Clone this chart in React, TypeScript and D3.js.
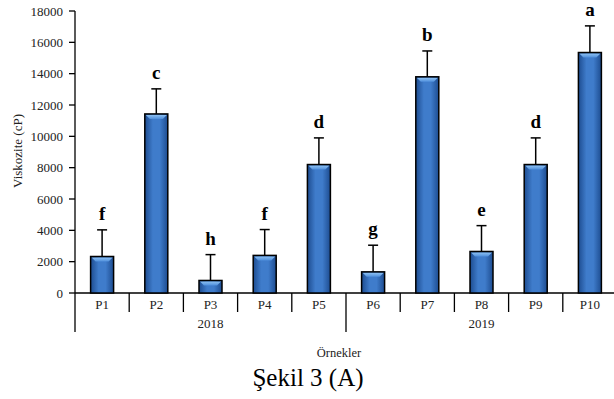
import React from "react";
import * as d3 from "d3";

const categories = ["P1", "P2", "P3", "P4", "P5", "P6", "P7", "P8", "P9", "P10"];
const values = [2330, 11430, 800, 2400, 8200, 1350, 13800, 2650, 8200, 15350];
const errors = [1700, 1600, 1650, 1650, 1700, 1700, 1650, 1650, 1700, 1700];
const letters = ["f", "c", "h", "f", "d", "g", "b", "e", "d", "a"];
const years = ["2018", "2019"];
const yearGroups = [["P1", "P2", "P3", "P4", "P5"], ["P6", "P7", "P8", "P9", "P10"]];
const yTicks = [0, 2000, 4000, 6000, 8000, 10000, 12000, 14000, 16000, 18000];

const W = 614, H = 399;
const left = 75, right = 617, top = 11, bottom = 293;
const font = "'Liberation Serif', 'Times New Roman', serif";

export default function App() {
  const x = d3.scaleBand<string>().domain(categories).range([left, right]).paddingInner(0).paddingOuter(0);
  const y = d3.scaleLinear().domain([0, 18000]).range([bottom, top]);
  const bw = x.bandwidth();
  const barW = 23;
  return (
    <svg width={W} height={H} style={{ position: "absolute", left: 0, top: 0, background: "#fff" }}>
      <defs>
        <linearGradient id="bg" x1="0" x2="1" y1="0" y2="0">
          <stop offset="0" stopColor="#1d4c90" />
          <stop offset="0.35" stopColor="#3f7ccb" />
          <stop offset="0.65" stopColor="#3f7ccb" />
          <stop offset="1" stopColor="#1d4c90" />
        </linearGradient>
        <linearGradient id="tg" x1="0" x2="0" y1="0" y2="1">
          <stop offset="0" stopColor="#8cc0f2" />
          <stop offset="1" stopColor="#4f8fdc" />
        </linearGradient>
      </defs>
      {/* y axis */}
      <line x1={left} x2={left} y1={y(18000)} y2={bottom} stroke="#000" strokeWidth={1.3} />
      {yTicks.map((t) => (
        <g key={t}>
          <line x1={left - 6} x2={left} y1={y(t)} y2={y(t)} stroke="#000" strokeWidth={1.3} />
          <text x={left - 12} y={y(t) + 4.5} textAnchor="end" fontFamily={font} fontSize={13} fill="#222">{t}</text>
        </g>
      ))}
      <text transform={`translate(22,151) rotate(-90)`} textAnchor="middle" fontFamily={font} fontSize={13} fill="#222">Viskozite (cP)</text>
      {/* x axis */}
      <line x1={left} x2={W} y1={bottom} y2={bottom} stroke="#000" strokeWidth={1.3} />
      {categories.map((c, i) => {
        const x0 = x(c)!;
        const isGroupStart = yearGroups.some((g) => g[0] === c);
        return (
          <g key={c}>
            <line x1={x0} x2={x0} y1={bottom} y2={isGroupStart ? 332 : 312} stroke="#000" strokeWidth={1.3} />
            <text x={x0 + bw / 2} y={308.5} textAnchor="middle" fontFamily={font} fontSize={13} fill="#222">{c}</text>
          </g>
        );
      })}
      {years.map((yr, gi) => {
        const g = yearGroups[gi];
        const a = x(g[0])!, b = x(g[g.length - 1])! + bw;
        return <text key={yr} x={(a + b) / 2} y={327.5} textAnchor="middle" fontFamily={font} fontSize={13} fill="#222">{yr}</text>;
      })}
      {/* bars */}
      {categories.map((c, i) => {
        const cx = x(c)! + bw / 2;
        const x0 = cx - barW / 2;
        const yt = y(values[i]);
        const ye = y(values[i] + errors[i]);
        const h = bottom - yt;
        const bev = Math.min(5, h / 2);
        return (
          <g key={c}>
            <line x1={cx} x2={cx} y1={yt} y2={ye} stroke="#000" strokeWidth={1.5} />
            <line x1={cx - 5} x2={cx + 5} y1={ye} y2={ye} stroke="#000" strokeWidth={1.5} />
            <rect x={x0} y={yt} width={barW} height={h} fill="url(#bg)" />
            <path d={`M${x0 + 1},${yt + 1} L${x0 + barW - 1},${yt + 1} L${x0 + barW - 5},${yt + bev} L${x0 + 5},${yt + bev} Z`} fill="url(#tg)" />
            <rect x={x0} y={yt} width={barW} height={h} fill="none" stroke="#000" strokeWidth={1.5} />
            <text x={cx} y={ye - 10} textAnchor="middle" fontFamily={font} fontWeight="bold" fontSize={19} fill="#000">{letters[i]}</text>
          </g>
        );
      })}
      <text x={339} y={357} textAnchor="middle" fontFamily={font} fontSize={12.5} fill="#222">Örnekler</text>
      <text x={308} y={386} textAnchor="middle" fontFamily={font} fontSize={25} fill="#000">Şekil 3 (A)</text>
    </svg>
  );
}
